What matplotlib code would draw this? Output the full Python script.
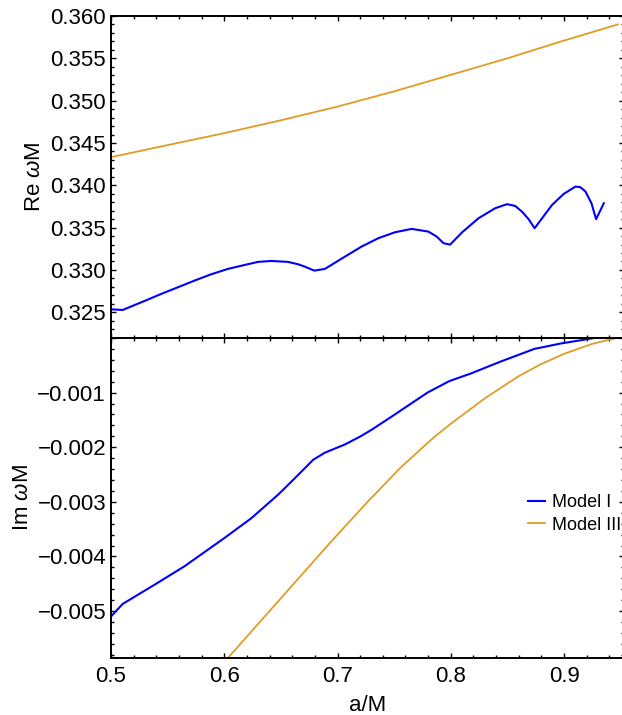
import matplotlib
matplotlib.use("Agg")
import matplotlib.pyplot as plt
from matplotlib.ticker import MultipleLocator, FormatStrFormatter

plt.rcParams['font.family'] = ['Liberation Sans', 'DejaVu Sans']
plt.rcParams['mathtext.fontset'] = 'custom'
plt.rcParams['mathtext.rm'] = 'Liberation Sans'
plt.rcParams['mathtext.it'] = 'Liberation Sans:italic'

# Model I, real part
a_re_1 = [0.5, 0.5103, 0.5295, 0.5442, 0.559, 0.5737, 0.5885, 0.6032, 0.618, 0.6298,
          0.6416, 0.6563, 0.6652, 0.6711, 0.6794, 0.6888, 0.7065, 0.7212, 0.736,
          0.7507, 0.7655, 0.7802, 0.7876, 0.7935, 0.7994, 0.8097, 0.8245, 0.8392,
          0.8496, 0.8569, 0.8628, 0.8687, 0.874, 0.8894, 0.8997, 0.91, 0.9145,
          0.9189, 0.9242, 0.9283, 0.9351]
re_1 = [0.32535, 0.32527, 0.32633, 0.32716, 0.32795, 0.32874, 0.32949, 0.33012, 0.33059, 0.33095,
        0.33106, 0.33095, 0.33067, 0.33039, 0.32992, 0.33012, 0.33157, 0.33276, 0.33375,
        0.33445, 0.33485, 0.33453, 0.33394, 0.33316, 0.33299, 0.33441, 0.33611, 0.33729,
        0.33777, 0.33756, 0.33689, 0.33600, 0.33493, 0.33768, 0.33898, 0.33985, 0.33977,
        0.33926, 0.33788, 0.33600, 0.33788]

# Model III, real part
a_re_3 = [0.5, 0.55, 0.6, 0.65, 0.7, 0.75, 0.8, 0.85, 0.9, 0.9475]
re_3 = [0.34332, 0.34475, 0.34616, 0.34768, 0.34930, 0.35110, 0.35305, 0.35500, 0.35710, 0.35900]

# Model I, imaginary part
a_im_1 = [0.5, 0.5103, 0.5383, 0.5649, 0.6003, 0.6239, 0.6475, 0.6622, 0.6785, 0.6888,
          0.7065, 0.7204, 0.7301, 0.7499, 0.7794, 0.7986, 0.8177, 0.8442, 0.8737,
          0.8973, 0.9209, 0.9348]
im_1 = [-0.00510, -0.00487, -0.00452, -0.00418, -0.00366, -0.00330, -0.00287, -0.00257, -0.00223, -0.00210,
        -0.00195, -0.00180, -0.00168, -0.00141, -0.00100, -0.00079, -0.00065, -0.00043, -0.00020,
        -0.00010, -0.00002, 0.00003]

# Model III, imaginary part
a_im_3 = [0.6, 0.6032, 0.6327, 0.6622, 0.6917, 0.7, 0.727, 0.7558, 0.785, 0.8,
          0.8304, 0.8599, 0.8795, 0.9, 0.9245, 0.94, 0.9475]
im_3 = [-0.00594, -0.00586, -0.00517, -0.00448, -0.00379, -0.00360, -0.00299, -0.00237, -0.00182, -0.00157,
        -0.00110, -0.00070, -0.00048, -0.00029, -0.00011, -0.00003, 0.0]

labels = ['Model I', 'Model III']
blue = (0.0, 0.0, 1.0)
orange = '#e09c24'

W, H = 622, 715
fig = plt.figure(figsize=(W / 100, H / 100), dpi=100)
left = 111 / W
width = 1.003 - left
ax_re = fig.add_axes([left, 1 - 338 / H, width, (338 - 16) / H])
ax_im = fig.add_axes([left, 1 - 658 / H, width, (658 - 338) / H], sharex=ax_re)

ax_re.plot(a_re_1, re_1, color=blue, lw=1.5)
ax_re.plot(a_re_3, re_3, color=orange, lw=1.3)
ax_im.plot(a_im_1, im_1, color=blue, lw=1.5, label=labels[0])
ax_im.plot(a_im_3, im_3, color=orange, lw=1.3, label=labels[1])

ax_re.set_xlim(0.5, 0.9528)
ax_re.set_ylim(0.32196, 0.360)
ax_im.set_ylim(-0.00586, 0.0)

ax_re.yaxis.set_major_locator(MultipleLocator(0.005))
ax_re.yaxis.set_minor_locator(MultipleLocator(0.001))
ax_re.yaxis.set_major_formatter(FormatStrFormatter('%.3f'))
ax_im.yaxis.set_major_locator(MultipleLocator(0.001))
ax_im.yaxis.set_minor_locator(MultipleLocator(0.0002))
ax_im.yaxis.set_major_formatter(
    plt.FuncFormatter(lambda v, p: '' if abs(v) < 1e-9 else ('%.3f' % v).replace('-', '\u2212')))
ax_im.xaxis.set_major_locator(MultipleLocator(0.1))
ax_im.xaxis.set_minor_locator(MultipleLocator(0.02))
ax_im.xaxis.set_major_formatter(FormatStrFormatter('%.1f'))

for ax in (ax_re, ax_im):
    for s in ax.spines.values():
        s.set_linewidth(1.4)
    ax.tick_params(which='both', direction='in', top=True, right=True, width=1.0,
                   labelsize=16, pad=3.5)
    ax.tick_params(which='major', length=3.5)
    ax.tick_params(which='minor', length=2)
ax_re.tick_params(axis='x', labelbottom=False)
ax_im.tick_params(axis='x', pad=6)

ax_re.set_ylabel('Re $\\mathit{\\omega}$M', fontsize=16)
ax_im.set_ylabel('Im $\\mathit{\\omega}$M', fontsize=16)
ax_re.yaxis.set_label_coords(-0.128, 0.5)
ax_im.yaxis.set_label_coords(-0.153, 0.5)
ax_im.set_xlabel('a/M', fontsize=16, labelpad=5.5)

ax_im.legend(loc='center left', bbox_to_anchor=(0.814, 0.45), frameon=False,
             fontsize=13, handlelength=0.9, handletextpad=0.4, labelspacing=0.3,
             borderpad=0, borderaxespad=0)

fig.savefig('out.png', dpi=100)
